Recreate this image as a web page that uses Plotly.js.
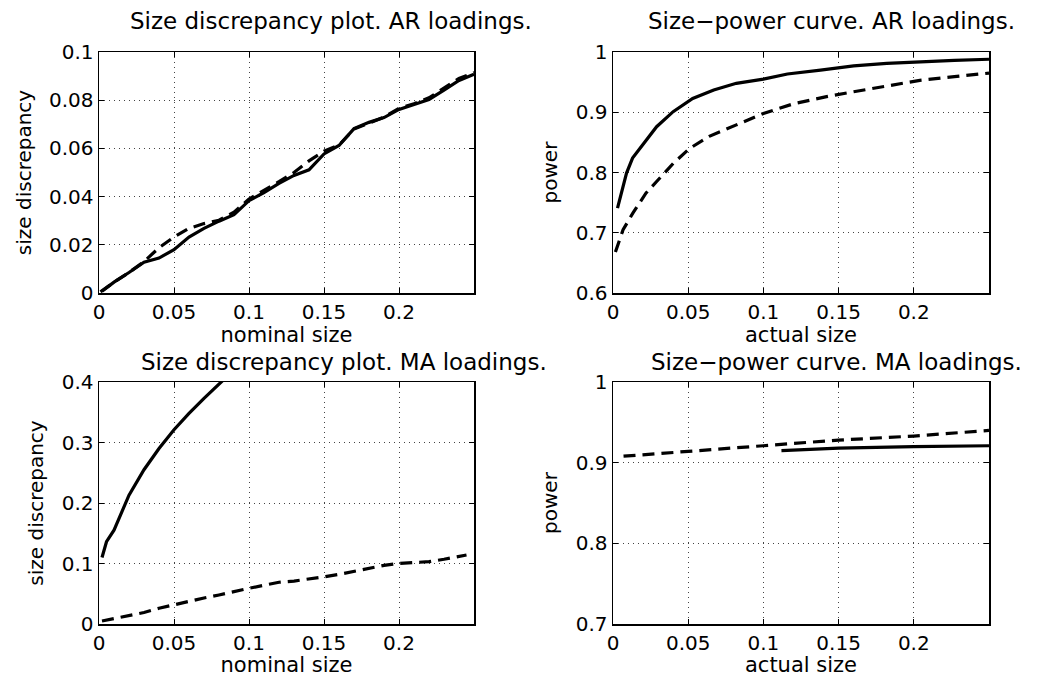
<!DOCTYPE html>
<html>
<head>
<meta charset="utf-8">
<script src="https://cdn.plot.ly/plotly-3.0.1.min.js"></script>
<style>html,body{margin:0;padding:0;background:#fff;}#chart{width:1039px;height:677px;}</style>
</head>
<body>
<div id="chart"></div>
<script>
// ---- Data ----
// Top-left: Size discrepancy plot, AR loadings
const arDiscX_solid = [0.002,0.01,0.02,0.03,0.04,0.05,0.06,0.07,0.08,0.09,0.10,0.11,0.12,0.13,0.14,0.15,0.16,0.17,0.18,0.19,0.20,0.21,0.22,0.23,0.24,0.25];
const arDiscY_solid = [0.0007,0.0045,0.0085,0.0128,0.0145,0.018,0.0232,0.0268,0.0298,0.0325,0.0383,0.0417,0.0455,0.0488,0.0511,0.0577,0.0612,0.0682,0.0708,0.0728,0.0762,0.0782,0.0803,0.0842,0.0882,0.0908];
const arDiscX_dash = [0.001,0.01,0.02,0.03,0.04,0.05,0.06,0.07,0.08,0.09,0.10,0.11,0.12,0.13,0.14,0.15,0.16,0.17,0.18,0.19,0.20,0.21,0.22,0.23,0.24,0.25];
const arDiscY_dash = [0.0005,0.0045,0.0085,0.013,0.0188,0.0232,0.0268,0.0288,0.0302,0.0335,0.039,0.0425,0.0462,0.05,0.0548,0.0588,0.0614,0.068,0.0706,0.073,0.0766,0.0785,0.081,0.085,0.089,0.0915];

// Top-right: Size-power curve, AR loadings
const arPowX_solid = [0.003,0.009,0.013,0.021,0.029,0.04,0.053,0.067,0.082,0.1,0.116,0.138,0.16,0.182,0.204,0.227,0.25];
const arPowY_solid = [0.741,0.799,0.824,0.851,0.876,0.901,0.923,0.937,0.948,0.955,0.9635,0.97,0.977,0.981,0.984,0.986,0.988];
const arPowX_dash = [0.0016,0.0067,0.0133,0.022,0.029,0.04,0.051,0.064,0.082,0.1,0.12,0.142,0.16,0.182,0.204,0.227,0.25];
const arPowY_dash = [0.668,0.705,0.733,0.766,0.785,0.815,0.84,0.86,0.879,0.898,0.914,0.926,0.934,0.944,0.953,0.959,0.965];

// Bottom-left: Size discrepancy plot, MA loadings
const maDiscX_solid = [0.002,0.005,0.01,0.02,0.03,0.04,0.05,0.06,0.07,0.08,0.09];
const maDiscY_solid = [0.11,0.136,0.155,0.213,0.255,0.29,0.321,0.348,0.373,0.396,0.42];
const maDiscX_dash = [0.002,0.01,0.02,0.03,0.04,0.05,0.06,0.07,0.08,0.09,0.10,0.11,0.12,0.13,0.14,0.15,0.16,0.17,0.18,0.19,0.20,0.21,0.22,0.23,0.24,0.245];
const maDiscY_dash = [0.005,0.009,0.013,0.019,0.026,0.032,0.037,0.043,0.048,0.054,0.059,0.064,0.069,0.071,0.074,0.078,0.082,0.087,0.092,0.097,0.1,0.101,0.103,0.107,0.112,0.114];

// Bottom-right: Size-power curve, MA loadings
const maPowX_solid = [0.112,0.15,0.2,0.25];
const maPowY_solid = [0.915,0.918,0.92,0.921];
const maPowX_dash = [0.007,0.05,0.1,0.15,0.2,0.25];
const maPowY_dash = [0.908,0.9136,0.921,0.928,0.933,0.94];

// Tick labels
const xTickVals = [0,0.05,0.1,0.15,0.2];
const xTickText = ["0","0.05","0.1","0.15","0.2"];
const y1TickVals = [0,0.02,0.04,0.06,0.08,0.1];
const y1TickText = ["0","0.02","0.04","0.06","0.08","0.1"];
const y2TickVals = [0.6,0.7,0.8,0.9,1];
const y2TickText = ["0.6","0.7","0.8","0.9","1"];
const y3TickVals = [0,0.1,0.2,0.3,0.4];
const y3TickText = ["0","0.1","0.2","0.3","0.4"];
const y4TickVals = [0.7,0.8,0.9,1];
const y4TickText = ["0.7","0.8","0.9","1"];

const titles = ["Size discrepancy plot. AR loadings.","Size\u2212power curve. AR loadings.","Size discrepancy plot. MA loadings.","Size\u2212power curve. MA loadings."];
const xTitles = ["nominal size","actual size","nominal size","actual size"];
const yTitles = ["size discrepancy","power","size discrepancy","power"];

// ---- Styling ----
const FONT = "DejaVu Sans";
const solidLine = {color:"#000", width:3.2};
const dashLine = {color:"#000", width:3.2, dash:"12px,7px"};

function tr(x,y,line,xa,ya){return {x:x,y:y,type:"scatter",mode:"lines",line:line,xaxis:xa,yaxis:ya,showlegend:false,hoverinfo:"skip"};}

const data = [
  tr(arDiscX_dash,arDiscY_dash,dashLine,"x","y"),
  tr(arDiscX_solid,arDiscY_solid,solidLine,"x","y"),
  tr(arPowX_dash,arPowY_dash,dashLine,"x2","y2"),
  tr(arPowX_solid,arPowY_solid,solidLine,"x2","y2"),
  tr(maDiscX_dash,maDiscY_dash,dashLine,"x3","y3"),
  tr(maDiscX_solid,maDiscY_solid,solidLine,"x3","y3"),
  tr(maPowX_dash,maPowY_dash,dashLine,"x4","y4"),
  tr(maPowX_solid,maPowY_solid,solidLine,"x4","y4")
];

const W = 1039, H = 677;
const colX = [[99/W,474/W],[613/W,989/W]];
const rowY = [[1-293/H,1-52/H],[1-624/H,1-382/H]];

function xax(i,dom,anchor){
  return {domain:dom,anchor:anchor,range:[0,0.25],tickvals:xTickVals,ticktext:xTickText,
    showline:true,mirror:"ticks",linecolor:"#000",linewidth:1.5,ticks:"inside",ticklen:5,tickcolor:"#000",tickwidth:1,
    showgrid:true,gridcolor:"#444",gridwidth:1,griddash:"1px,4px",zeroline:false,
    tickfont:{family:FONT,size:20,color:"#000"},
    title:{text:xTitles[i],font:{family:FONT,size:21,color:"#000"},standoff:1},automargin:false};
}
function yax(i,dom,anchor,tv,tt,rng){
  return {domain:dom,anchor:anchor,range:rng,tickvals:tv,ticktext:tt,
    showline:true,mirror:"ticks",linecolor:"#000",linewidth:1.5,ticks:"inside",ticklen:5,tickcolor:"#000",tickwidth:1,
    showgrid:true,gridcolor:"#444",gridwidth:1,griddash:"1px,4px",zeroline:false,
    tickfont:{family:FONT,size:20,color:"#000"},
    title:{text:yTitles[i],font:{family:FONT,size:20,color:"#000"},standoff:12},automargin:false};
}

const titleX = [331/W, 831/W, 344/W, 836/W];
const titleY = [1-36/H, 1-36/H, 1-377/H, 1-377/H];

const layout = {
  width:W,height:H,margin:{l:0,r:0,t:0,b:0},paper_bgcolor:"#fff",plot_bgcolor:"#fff",
  font:{family:FONT,color:"#000"},
  xaxis: xax(0,colX[0],"y"),
  yaxis: yax(0,rowY[0],"x",y1TickVals,y1TickText,[0,0.1]),
  xaxis2: xax(1,colX[1],"y2"),
  yaxis2: yax(1,rowY[0],"x2",y2TickVals,y2TickText,[0.6,1]),
  xaxis3: xax(2,colX[0],"y3"),
  yaxis3: yax(2,rowY[1],"x3",y3TickVals,y3TickText,[0,0.4]),
  xaxis4: xax(3,colX[1],"y4"),
  yaxis4: yax(3,rowY[1],"x4",y4TickVals,y4TickText,[0.7,1]),
  annotations: titles.map((t,i)=>({text:t,xref:"paper",yref:"paper",x:titleX[i],y:titleY[i],xanchor:"center",yanchor:"bottom",showarrow:false,font:{family:FONT,size:23,color:"#000"}}))
};

Plotly.newPlot("chart",data,layout,{displayModeBar:false,staticPlot:true});
</script>
</body>
</html>
